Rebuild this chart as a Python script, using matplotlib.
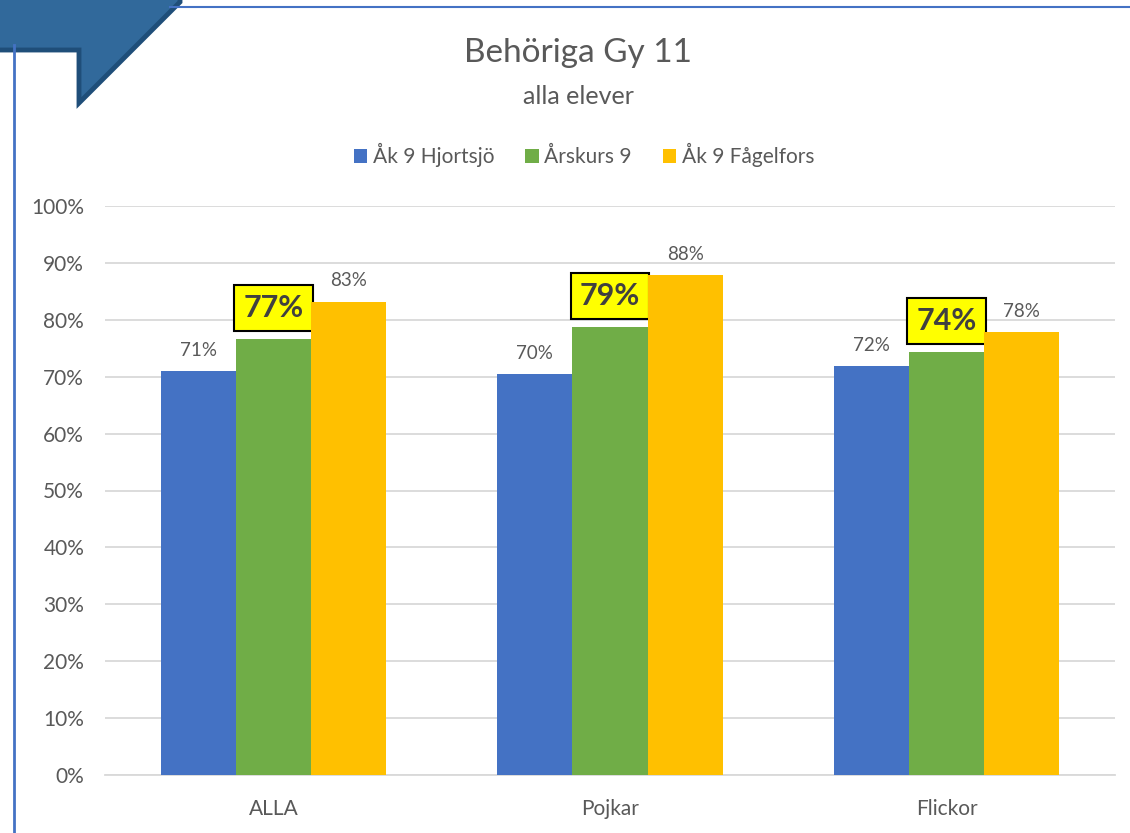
import matplotlib.pyplot as plt
from matplotlib.patches import Polygon
from matplotlib.lines import Line2D
import numpy as np

plt.rcParams['font.family'] = ['Lato', 'DejaVu Sans']

# Data
categories = ['ALLA', 'Pojkar', 'Flickor']
series_names = ['Åk 9 Hjortsjö', 'Årskurs 9', 'Åk 9 Fågelfors']
hjortsjo = [71.0, 70.4, 71.8]
arskurs9 = [76.7, 78.8, 74.4]
fagelfors = [83.2, 87.8, 77.8]
colors = ['#4472C4', '#70AD47', '#FFC000']

text_col = '#595959'
W, H = 1130, 833
fig = plt.figure(figsize=(W / 100, H / 100), dpi=100)
ax = fig.add_axes([105 / W, 1 - 775 / H, 1010 / W, (775 - 206) / H])

x = np.arange(len(categories))
bw = 0.223
all_series = [hjortsjo, arskurs9, fagelfors]
for i, (vals, name, c) in enumerate(zip(all_series, series_names, colors)):
    pos = x + (i - 1) * bw
    ax.bar(pos, vals, width=bw, color=c, label=name, zorder=3)
    for p, v in zip(pos, vals):
        if i == 1:
            # highlighted label for the municipality average
            ax.annotate(f'{v:.0f}%', (p, v), xytext=(0, 12), textcoords='offset points',
                        ha='center', va='bottom', fontsize=22, fontweight='bold', color='#404040',
                        bbox=dict(boxstyle='square,pad=0.3', fc='#FFFF00', ec='black', lw=1.5))
        else:
            ax.annotate(f'{v:.0f}%', (p, v), xytext=(0, 9), textcoords='offset points',
                        ha='center', va='bottom', fontsize=13.5, color=text_col)

ax.set_xlim(-0.5, 2.5)
ax.set_ylim(0, 100)
ax.set_yticks(np.arange(0, 101, 10))
ax.set_yticklabels([f'{t}%' for t in range(0, 101, 10)])
ax.set_xticks(x)
ax.set_xticklabels(categories)
ax.tick_params(axis='both', length=0, labelsize=15, labelcolor=text_col)
ax.tick_params(axis='y', pad=15)
ax.tick_params(axis='x', pad=17)
ax.grid(axis='y', color='#D9D9D9', lw=1.3, zorder=0)
for s in ['top', 'right', 'left']:
    ax.spines[s].set_visible(False)
ax.spines['bottom'].set_color('#D9D9D9')
ax.spines['bottom'].set_linewidth(1.3)

# Titles
fig.text(578 / W, 1 - 53 / H, 'Behöriga Gy 11', ha='center', va='center', fontsize=24, color=text_col)
fig.text(578 / W, 1 - 97 / H, 'alla elever', ha='center', va='center', fontsize=18, color=text_col)

# Legend
leg = fig.legend(loc='center', bbox_to_anchor=(584 / W, 1 - 155 / H), ncol=3, frameon=False,
                 fontsize=15, handlelength=0.65, handleheight=0.65, handletextpad=0.25,
                 columnspacing=1.5, labelcolor=text_col)

# Decorations: frame lines and corner shape
fig.add_artist(Line2D([14 / W, 14 / W], [0, 1 - 45 / H], transform=fig.transFigure,
                      color='#4472C4', lw=2))
fig.add_artist(Line2D([170 / W, 1], [1 - 7 / H, 1 - 7 / H], transform=fig.transFigure,
                      color='#4472C4', lw=1.5))
pts = [(-5, -5), (180, -5), (180, 2), (79, 103), (79, 50), (-5, 50)]
fig.add_artist(Polygon([(px / W, 1 - py / H) for px, py in pts], closed=True,
                       transform=fig.transFigure, fc='#31699B', ec='#1F4E79', lw=3.5))

fig.savefig('out.png', dpi=100)
